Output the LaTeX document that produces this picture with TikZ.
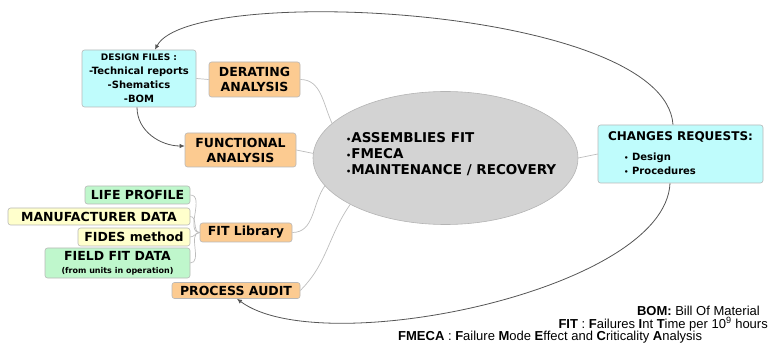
\documentclass[tikz,border=0pt]{standalone}
\usepackage{fontspec}
\setmainfont{DejaVu Sans}
\newfontfamily\legendfont{Liberation Sans}
\usetikzlibrary{shapes.geometric,arrows.meta}

\definecolor{cyanfill}{HTML}{BFFCFC}
\definecolor{orangefill}{HTML}{FCCB91}
\definecolor{greenfill}{HTML}{BFF7CC}
\definecolor{yellowfill}{HTML}{FFFFCC}
\definecolor{ellfill}{HTML}{D3D3D3}
\definecolor{ellline}{HTML}{B4B4B4}
\definecolor{boxline}{HTML}{B8B8B8}
\definecolor{linkgray}{HTML}{BDBDBD}
\definecolor{loopgray}{HTML}{555555}

\tikzset{
  box/.style={draw=boxline, rounded corners=2.5pt, line width=0.6pt, inner sep=0pt,
    align=center, font=\bfseries\fontsize{12.5}{15}\selectfont},
  bluebox/.style={box, fill=cyanfill},
  orangebox/.style={box, fill=orangefill},
  greenbox/.style={box, fill=greenfill},
  yellowbox/.style={box, fill=yellowfill},
  link/.style={draw=linkgray, line width=0.7pt},
  loop/.style={draw=loopgray, line width=0.8pt, -{Latex[length=5pt,width=4.5pt]}},
  legend/.style={font=\legendfont\fontsize{13}{13}\selectfont, inner sep=0pt},
}

\begin{document}
\begin{tikzpicture}[x=1pt,y=1pt]
\useasboundingbox (0,0) rectangle (771,351);


% Design files and analyses
\node[bluebox, minimum width=114pt, minimum height=57pt,
  font=\bfseries\fontsize{10}{14}\selectfont] (files) at (139,272.5)
  {{\fontsize{9}{14}\selectfont DESIGN FILES :}\\-Technical reports\\-Shematics\\-BOM};
\node[orangebox, minimum width=91pt, minimum height=35pt] (derating) at (254.5,271.5)
  {DERATING\\ANALYSIS};
\node[orangebox, minimum width=111pt, minimum height=34pt] (functional) at (240.5,201)
  {FUNCTIONAL\\ANALYSIS};


% FIT sources
\node[greenbox, minimum width=105pt, minimum height=18pt] (life) at (137.5,156) {LIFE PROFILE};
\node[yellowbox, minimum width=182pt, minimum height=17pt] (manu) at (99,134.5) {MANUFACTURER DATA};
\node[yellowbox, minimum width=112pt, minimum height=18pt] (fides) at (134,114) {FIDES method};
\node[greenbox, minimum width=145pt, minimum height=30pt,
  font=\bfseries\fontsize{12.5}{13}\selectfont] (field) at (117.5,88)
  {FIELD FIT DATA\\{\fontsize{8}{9}\selectfont (from units in operation)}};
\node[orangebox, minimum width=92pt, minimum height=19pt] (fitlib) at (246,118.5) {FIT Library};
\node[orangebox, minimum width=128pt, minimum height=16pt] (audit) at (236,60.5) {PROCESS AUDIT};


% Central ellipse
\node[ellipse, draw=ellline, fill=ellfill, line width=0.6pt, minimum width=265pt,
  minimum height=133pt, inner sep=0pt] (core) at (445.5,193) {};
\node[anchor=west, align=left, inner sep=0pt,
  font=\bfseries\fontsize{13.5}{16}\selectfont] (coretext) at (346,196.5)
  {{\fontsize{8}{8}\selectfont•}ASSEMBLIES FIT\\{\fontsize{8}{8}\selectfont•}FMECA\\{\fontsize{8}{8}\selectfont•}MAINTENANCE / RECOVERY};


% Changes requests
\node[bluebox, minimum width=165pt, minimum height=58pt] (changes) at (680.5,197) {};
\node[font=\bfseries\fontsize{12}{14}\selectfont, inner sep=0pt] (changestitle)
  at ([yshift=-12pt]changes.north) {CHANGES REQUESTS:};
\node[anchor=west, align=left, inner sep=0pt, font=\bfseries\fontsize{10}{14}\selectfont]
  (changeslist) at (624,187) {{\fontsize{7}{7}\selectfont•} Design\\{\fontsize{7}{7}\selectfont•} Procedures};


% Links
\draw[link] (files.east) -- (derating.west);
\draw[link] (derating.east) to[out=0,in=115] (core.163);
\draw[link] (functional.east) -- (core.178);
\draw[link] (fitlib.east) to[out=0,in=235] (core.193);
\draw[link] (audit.east) to[out=45,in=235] (core.206);
\draw[link] (core.east) -- (changes.west);
\foreach \leaf in {life,manu,fides,field}
  \draw[link] (\leaf.east) to[out=0,in=180] (fitlib.west);

\draw[loop] ([xshift=-2pt]files.south) to[out=270,in=180] ([yshift=4pt]functional.west);


% Feedback loops
\draw[loop] ([xshift=-7.5pt]changes.north) .. controls (665,345) and (190,368) .. ([xshift=16pt]files.north);
\draw[loop] ([xshift=-10.5pt]changes.south) .. controls (665,60) and (320,-10) .. ([xshift=1pt]audit.south);


% Legend
\node[legend, anchor=east] (bomnote) at (760,40.5) {\textbf{BOM:} Bill Of Material};
\node[legend, anchor=east] (fitnote) at (768,27) {\textbf{FIT} : \textbf{F}ailures \textbf{I}nt \textbf{T}ime per 10\textsuperscript{9} hours};
\node[legend, anchor=west] (fmecanote) at (398,14) {\textbf{FMECA} : \textbf{F}ailure \textbf{M}ode \textbf{E}ffect and \textbf{C}riticality \textbf{A}nalysis};

\end{tikzpicture}
\end{document}
